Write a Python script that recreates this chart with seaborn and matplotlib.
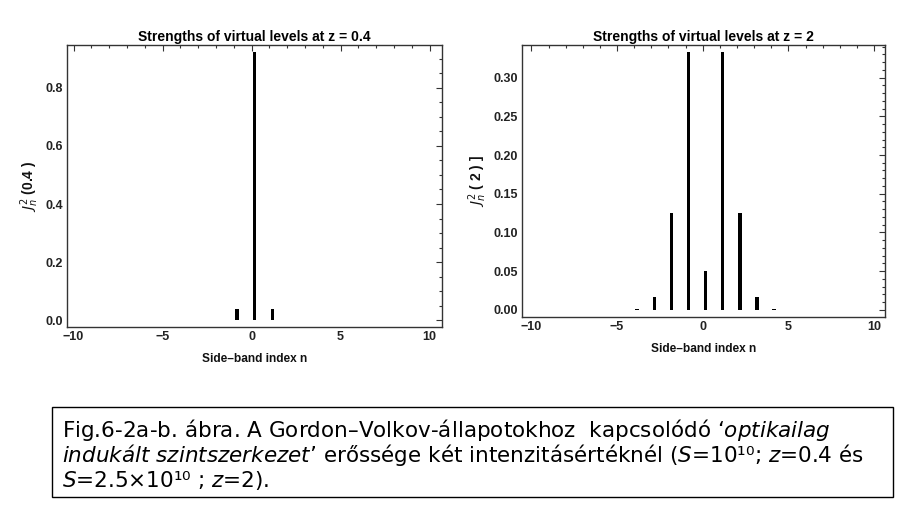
import numpy as np
import pandas as pd
import matplotlib
matplotlib.use("Agg")
import matplotlib.pyplot as plt
from matplotlib.ticker import MultipleLocator
from matplotlib.patches import Rectangle
import seaborn as sns

# Data: squared Bessel amplitudes per side-band
n_z04 = [-1, 0, 1]
strength_z04 = [0.038, 0.922, 0.038]

n_z2 = [-4, -3, -2, -1, 0, 1, 2, 3, 4]
strength_z2 = [0.0012, 0.0166, 0.1245, 0.3326, 0.0501, 0.3326, 0.1245, 0.0166, 0.0012]

titles = ["Strengths of virtual levels at z = 0.4", "Strengths of virtual levels at z = 2"]
ylabels = ["$J_n^2$ (0.4 )", "$J_n^2$ ( 2 ) ]"]
xlabel = "Side\u2013band index n"

caption_lines = [
    "Fig.6-2a-b. ábra. A Gordon\u2013Volkov-állapotokhoz  kapcsolódó \u2018$\\mathit{optikailag}$",
    "$\\mathit{indukált}$ $\\mathit{szintszerkezet}$\u2019 erőssége két intenzitásértéknél ($\\mathit{S}$=10\u00b9\u2070; $\\mathit{z}$=0.4 és",
    "$\\mathit{S}$=2.5\u00d710\u00b9\u2070 ; $\\mathit{z}$=2).",
]

sns.set_theme(style="white")
plt.rcParams["font.family"] = ["Liberation Sans", "DejaVu Sans"]
plt.rcParams["mathtext.fontset"] = "custom"
plt.rcParams["mathtext.rm"] = "DejaVu Sans"
plt.rcParams["mathtext.it"] = "DejaVu Sans:italic"
plt.rcParams["text.color"] = "black"
plt.rcParams["axes.labelcolor"] = "#111111"
plt.rcParams["xtick.color"] = "#222222"
plt.rcParams["ytick.color"] = "#222222"

W, H = 903, 509
fig = plt.figure(figsize=(W / 100, H / 100), dpi=100)


def px_axes(x0, y0, x1, y1):
    return fig.add_axes([x0 / W, 1 - y1 / H, (x1 - x0) / W, (y1 - y0) / H])


ax1 = px_axes(67, 45, 442, 327)
ax2 = px_axes(522, 45, 885, 317)

panels = [
    (ax1, n_z04, strength_z04, (-10.37, 10.7), (-0.023, 0.947), 0.2, 0.05),
    (ax2, n_z2, strength_z2, (-10.55, 10.64), (-0.0094, 0.3422), 0.05, 0.01),
]

for i, (ax, n, s, xl, yl, major, minor) in enumerate(panels):
    df = pd.DataFrame({"n": np.array(n) + 0.17, "s": s})
    sns.barplot(data=df, x="n", y="s", native_scale=True, width=0.2,
                color="black", edgecolor="black", linewidth=0, ax=ax)
    ax.set_xlim(*xl)
    ax.set_ylim(*yl)
    ax.xaxis.set_major_locator(MultipleLocator(5))
    ax.xaxis.set_minor_locator(MultipleLocator(1))
    ax.yaxis.set_major_locator(MultipleLocator(major))
    ax.yaxis.set_minor_locator(MultipleLocator(minor))
    ax.tick_params(which="both", direction="in", top=True, right=True,
                   color="#333333", width=0.8, labelsize=9, pad=3)
    ax.tick_params(which="major", length=4)
    ax.tick_params(which="minor", length=2)
    for lab in ax.get_xticklabels() + ax.get_yticklabels():
        lab.set_fontweight("bold")
    if i == 0:
        ax.yaxis.set_major_formatter(plt.FormatStrFormatter("%.1f"))
    else:
        ax.yaxis.set_major_formatter(plt.FormatStrFormatter("%.2f"))
    for sp in ax.spines.values():
        sp.set_color("#333333")
        sp.set_linewidth(1.0)
    ax.set_title(titles[i], fontsize=10, fontweight="bold", pad=3)
    ax.set_xlabel(xlabel, fontsize=8.6, fontweight="bold", labelpad=7)
    ax.set_ylabel(ylabels[i], fontsize=10, fontweight="bold", labelpad=3)

# caption box
fig.patches.append(Rectangle((52 / W, 1 - 497 / H), (893 - 52) / W, (497 - 407) / H,
                             transform=fig.transFigure, fill=False,
                             edgecolor="black", linewidth=1.0))
for k, line in enumerate(caption_lines):
    fig.text(62 / W, 1 - (430 + 25.5 * k) / H, line, fontsize=15.5,
             family="DejaVu Sans", va="center", ha="left")

fig.savefig("out.png", dpi=100)
